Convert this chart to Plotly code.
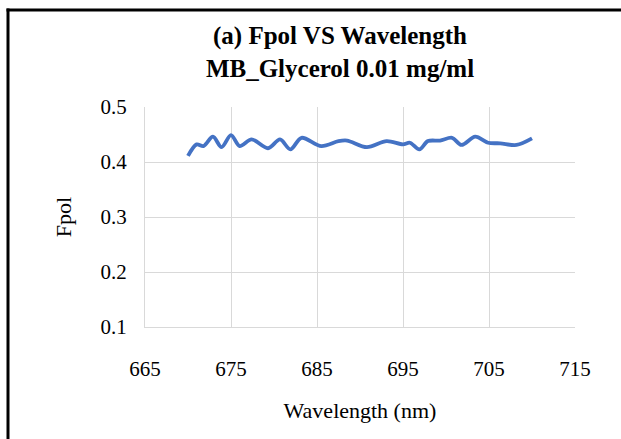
import plotly.graph_objects as go

# Data (Fpol vs wavelength)
wavelength = [670.0, 671.0, 671.8, 672.9, 673.9, 675.0, 676.0, 677.4, 679.3, 680.7,
              681.9, 683.2, 685.5, 687.5, 688.5, 690.8, 693.1, 695.0, 695.8, 696.9,
              697.9, 699.3, 700.7, 701.8, 703.4, 704.9, 706.3, 708.2, 710.0]
fpol = [0.411, 0.432, 0.429, 0.446, 0.427, 0.449, 0.429, 0.441, 0.425, 0.441,
        0.423, 0.444, 0.429, 0.438, 0.439, 0.427, 0.438, 0.432, 0.435, 0.423,
        0.438, 0.439, 0.444, 0.431, 0.446, 0.435, 0.434, 0.431, 0.443]

x_ticks = [665, 675, 685, 695, 705, 715]
y_ticks = [0.1, 0.2, 0.3, 0.4, 0.5]

W, H = 621, 439
ml, mr, mt, mb = 145, 46, 107, 112
pw, ph = W - ml - mr, H - mt - mb

def px_x(p):
    return (p - ml) / pw

def px_y(p):
    return (H - mb - p) / ph

fig = go.Figure()
fig.add_trace(go.Scatter(
    x=wavelength, y=fpol, mode="lines",
    line=dict(color="#4472C4", width=3.8, shape="spline", smoothing=0.9),
    showlegend=False, hoverinfo="x+y",
))

font_family = "Liberation Serif"

fig.update_layout(
    width=W, height=H,
    margin=dict(l=ml, r=mr, t=mt, b=mb),
    paper_bgcolor="white", plot_bgcolor="white",
    font=dict(family=font_family, color="black", size=20),
    title=dict(
        text="<b>(a) Fpol VS Wavelength<br>MB_Glycerol 0.01 mg/ml</b>",
        x=340 / W, xanchor="center", xref="container",
        y=1 - 44 / H, yanchor="middle", yref="container",
        font=dict(family=font_family, size=25, color="black"),
    ),
    xaxis=dict(
        range=[665, 715], tickvals=x_ticks, ticktext=[str(v) for v in x_ticks],
        showgrid=True, gridcolor="#d9d9d9", gridwidth=1,
        zeroline=False, showline=True, linecolor="#d9d9d9", linewidth=1,
        ticks="", ticklabelstandoff=23,
        title=dict(text="Wavelength (nm)", font=dict(family=font_family, size=22), standoff=22),
        tickfont=dict(family=font_family, size=21),
    ),
    yaxis=dict(
        range=[0.1, 0.5], tickvals=y_ticks, ticktext=[f"{v:.1f}" for v in y_ticks],
        showgrid=True, gridcolor="#d9d9d9", gridwidth=1,
        zeroline=False, showline=True, linecolor="#d9d9d9", linewidth=1,
        ticks="", ticklabelstandoff=13,
        title=dict(text="Fpol", font=dict(family=font_family, size=22), standoff=22),
        tickfont=dict(family=font_family, size=21),
    ),
    shapes=[
        dict(type="rect", xref="paper", yref="paper",
             x0=px_x(6.5), x1=px_x(9.5), y0=px_y(8.5), y1=px_y(H),
             fillcolor="black", line=dict(width=0)),
        dict(type="rect", xref="paper", yref="paper",
             x0=px_x(6.5), x1=px_x(W), y0=px_y(8.5), y1=px_y(11.5),
             fillcolor="black", line=dict(width=0)),
    ],
)

fig.write_html("out.html")
